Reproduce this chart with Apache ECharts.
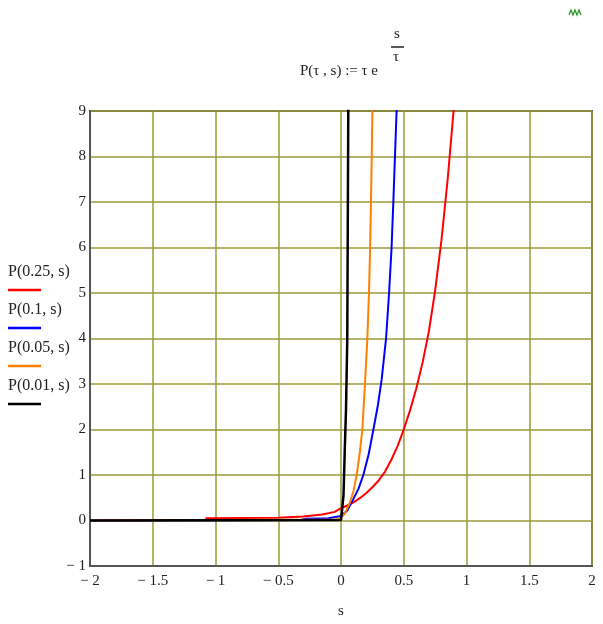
<!DOCTYPE html>
<html>
<head>
<meta charset="utf-8">
<script src="https://cdn.jsdelivr.net/npm/echarts@6/dist/echarts.min.js"></script>
<style>html,body{margin:0;padding:0;background:#fff;}#c{width:603px;height:624px;}</style>
</head>
<body>
<div id="c"></div>
<script>
// ---- data ----
const seriesNames = ['P(0.25, s)', 'P(0.1, s)', 'P(0.05, s)', 'P(0.01, s)'];
const seriesColors = ['#ff0000', '#0000ff', '#ff8000', '#000000'];

const redS   = [-1.08, -0.5, -0.3, -0.15, -0.05, 0, 0.05, 0.1, 0.15, 0.2, 0.25, 0.3, 0.35, 0.4, 0.45, 0.5, 0.55, 0.6, 0.65, 0.7, 0.75, 0.8, 0.85, 0.9, 0.92];
const redV   = [0.05, 0.06, 0.09, 0.13, 0.19, 0.27, 0.33, 0.4, 0.49, 0.6, 0.73, 0.88, 1.07, 1.33, 1.63, 2.0, 2.42, 2.9, 3.47, 4.15, 5.05, 6.15, 7.5, 9.1, 9.9];

const blueS  = [-2, -0.32, -0.28, -0.1, 0, 0.05, 0.098, 0.14, 0.178, 0.22, 0.257, 0.295, 0.324, 0.359, 0.383, 0.403, 0.417, 0.43, 0.443, 0.45];
const blueV  = [0, 0.01, 0.04, 0.05, 0.1, 0.22, 0.47, 0.7, 1.0, 1.45, 1.98, 2.55, 3.1, 4.0, 5.0, 6.0, 7.0, 8.0, 9.0, 9.6];

const orangeS = [-2, -0.05, 0, 0.03, 0.072, 0.1, 0.125, 0.15, 0.17, 0.191, 0.21, 0.223, 0.232, 0.239, 0.245, 0.25, 0.252];
const orangeV = [0, 0.02, 0.05, 0.15, 0.4, 0.65, 1.0, 1.5, 2.0, 3.0, 4.0, 5.0, 6.0, 7.0, 8.0, 9.0, 9.6];

const blackS = [-2, 0, 0.02, 0.03, 0.04, 0.05, 0.058, 0.059];
const blackV = [0, 0.01, 0.55, 1.55, 2.45, 4.0, 9.0, 9.6];

const xTicks = [-2, -1.5, -1, -0.5, 0, 0.5, 1, 1.5, 2];
const yTicks = [-1, 0, 1, 2, 3, 4, 5, 6, 7, 8, 9];
const xName = 's';
const titleMain = 'P(\u03C4 , s) := \u03C4 e';
const titleNum = 's';
const titleDen = '\u03C4';

// ---- build ----
const FONT = '"Liberation Serif", "DejaVu Serif", serif';
const zip = (a, b) => a.map((v, i) => [v, b[i]]);
const allS = [redS, blueS, orangeS, blackS];
const allV = [redV, blueV, orangeV, blackV];

function fmt(v) {
  return v < 0 ? '\u2212 ' + Math.abs(v) : String(v);
}

const chart = echarts.init(document.getElementById('c'), null, {renderer: 'canvas'});

const legendGraphics = [];
seriesNames.forEach((n, i) => {
  const y0 = 264 + i * 38;
  legendGraphics.push({
    type: 'text', left: 8, top: y0,
    style: {text: n, font: '16px ' + FONT, fill: '#222'}
  });
  legendGraphics.push({
    type: 'line', shape: {x1: 8, y1: y0 + 26, x2: 41, y2: y0 + 26},
    style: {stroke: seriesColors[i], lineWidth: 2.5}
  });
});

const option = {
  backgroundColor: '#fff',
  animation: false,
  grid: {left: 90, right: 11, top: 111, bottom: 52, show: true, borderColor: '#555', borderWidth: 2, backgroundColor: 'transparent'},
  xAxis: {
    type: 'value', min: xTicks[0], max: xTicks[xTicks.length - 1], interval: 0.5,
    name: xName, nameLocation: 'middle', nameGap: 38,
    nameTextStyle: {fontFamily: FONT, fontSize: 15, color: '#222'},
    axisLine: {show: true, onZero: false, lineStyle: {color: '#555', width: 2}},
    axisTick: {show: false},
    axisLabel: {formatter: fmt, fontFamily: FONT, fontSize: 15, color: '#222', margin: 8, showMinLabel: true, showMaxLabel: true},
    splitLine: {show: true, lineStyle: {color: '#9a9a38', width: 1.5}}
  },
  yAxis: {
    type: 'value', min: yTicks[0], max: yTicks[yTicks.length - 1], interval: 1,
    axisLine: {show: true, onZero: false, lineStyle: {color: '#555', width: 2}},
    axisTick: {show: false},
    axisLabel: {formatter: fmt, fontFamily: FONT, fontSize: 15, color: '#222', margin: 4, showMinLabel: true, showMaxLabel: true},
    splitLine: {show: true, lineStyle: {color: '#9a9a38', width: 1.5}}
  },
  series: seriesNames.map((n, i) => ({
    name: n, type: 'line', data: zip(allS[i], allV[i]),
    showSymbol: false, smooth: false, clip: true,
    lineStyle: {color: seriesColors[i], width: i === 3 ? 2.5 : 2},
    itemStyle: {color: seriesColors[i]},
    z: 3 + i
  })),
  graphic: [
    {type: 'text', left: 300, top: 64, style: {text: titleMain, font: '15px ' + FONT, fill: '#222'}},
    {type: 'text', left: 394, top: 27, style: {text: titleNum, font: '15px ' + FONT, fill: '#222'}},
    {type: 'line', shape: {x1: 391, y1: 47, x2: 404, y2: 47}, style: {stroke: '#222', lineWidth: 1.5}},
    {type: 'text', left: 393, top: 50, style: {text: titleDen, font: '15px ' + FONT, fill: '#222'}},
    {type: 'polyline', shape: {points: [[569, 15], [571, 10], [573, 15], [575, 10], [577, 15], [579, 10], [581, 15]]}, style: {stroke: '#2a9a2a', lineWidth: 1.3, fill: null}}
  ].concat(legendGraphics)
};
chart.setOption(option);
</script>
</body>
</html>
